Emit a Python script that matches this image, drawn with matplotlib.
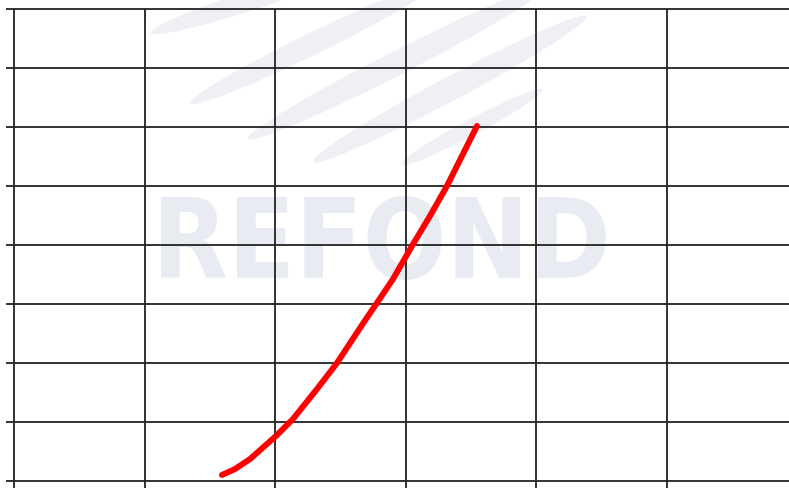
import numpy as np
import matplotlib.pyplot as plt
from matplotlib.patches import Ellipse
from matplotlib.transforms import IdentityTransform

# curve (grid units)
curve_x = [1.592, 1.692, 1.807, 2.006, 2.136, 2.320, 2.473, 2.695, 2.779,
           2.902, 3.047, 3.185, 3.315, 3.430, 3.545]
curve_y = [0.102, 0.203, 0.372, 0.762, 1.050, 1.558, 1.998, 2.743, 3.014,
           3.420, 3.979, 4.487, 4.995, 5.503, 6.011]

grid_x = [0, 1, 2, 3, 4, 5, 6]
grid_y = [0, 1, 2, 3, 4, 5, 6, 7, 8]

fig = plt.figure(figsize=(7.89, 4.89), dpi=100)
ax = fig.add_axes([0, 0, 1, 1])
ax.set_xlim(-0.1072, 5.934)
ax.set_ylim(-0.118, 8.161)
ax.axis('off')

# watermark, pixel positions from top-left
streak_col = '#eef0f5'
text_col = '#e9ebf2'
streaks = [((255, 0), 220, 20, 18), ((312, 45), 270, 22, 26),
           ((395, 65), 330, 24, 27), ((450, 90), 310, 24, 28),
           ((472, 128), 160, 16, 28)]
for (cx, cy), w, h, ang in streaks:
    ax.add_patch(Ellipse((cx, 489 - cy), w, h, angle=ang,
                         transform=IdentityTransform(),
                         facecolor=streak_col, edgecolor='none', zorder=0))

ax.text(381, 489 - 248, 'REFOND', ha='center', va='center',
        transform=IdentityTransform(), fontsize=79, fontweight='bold',
        fontstretch='condensed', color=text_col, zorder=0)

# grid
ax.hlines(grid_y, -0.061, grid_x[-1], color='#222222', lw=1.3, zorder=1)
ax.vlines(grid_x, -0.2, grid_y[-1], color='#222222', lw=1.3, zorder=1)

ax.plot(curve_x, curve_y, color='red', lw=4.3, solid_capstyle='round',
        solid_joinstyle='round', zorder=3)

fig.savefig('out.png', dpi=100)
